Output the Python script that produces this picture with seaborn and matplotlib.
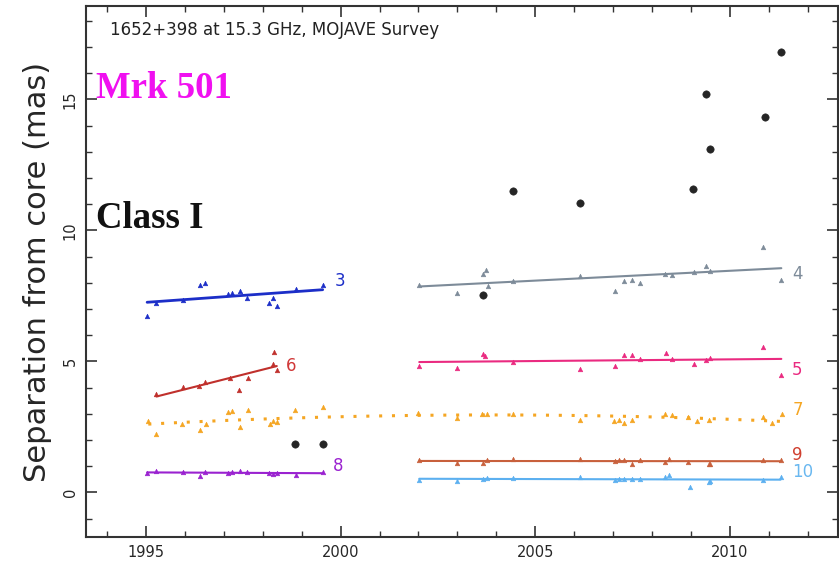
import numpy as np
import pandas as pd
import matplotlib
matplotlib.use("Agg")
import matplotlib.pyplot as plt
import seaborn as sns

# ---------------- data ----------------
t3 = [1995.03, 1995.26, 1995.96, 1996.39, 1996.52, 1997.12, 1997.20, 1997.42, 1997.60, 1998.17, 1998.26, 1998.36, 1998.86, 1999.54]
s3 = [6.72, 7.22, 7.35, 7.92, 7.98, 7.58, 7.60, 7.67, 7.43, 7.22, 7.43, 7.13, 7.77, 7.93]

t6 = [1995.27, 1995.96, 1996.37, 1996.52, 1997.16, 1997.40, 1997.63, 1998.27, 1998.30, 1998.36]
s6 = [3.75, 4.02, 4.07, 4.22, 4.35, 3.90, 4.36, 4.91, 5.35, 4.66]

t7 = [1995.06, 1995.27, 1995.92, 1996.39, 1996.54, 1997.12, 1997.20, 1997.42, 1997.63, 1998.19, 1998.27, 1998.36,
      1998.83, 1999.56, 2002.00, 2002.99, 2003.63, 2003.76, 2004.44, 2006.16, 2007.01, 2007.14, 2007.27, 2007.48,
      2008.34, 2008.51, 2008.93, 2009.15, 2009.45, 2010.86, 2011.08, 2011.34]
s7 = [2.73, 2.25, 2.60, 2.40, 2.60, 3.07, 3.10, 2.50, 3.13, 2.63, 2.73, 2.69,
      3.16, 3.26, 3.05, 2.86, 2.98, 3.00, 3.00, 2.78, 2.73, 2.78, 2.65, 2.78,
      2.98, 2.94, 2.88, 2.73, 2.78, 2.88, 2.65, 3.00]

t8 = [1995.03, 1995.26, 1995.96, 1996.39, 1996.52, 1997.12, 1997.20, 1997.42, 1997.60, 1998.17, 1998.26, 1998.36, 1998.86, 1999.54]
s8 = [0.75, 0.80, 0.78, 0.62, 0.78, 0.76, 0.78, 0.80, 0.78, 0.76, 0.72, 0.74, 0.65, 0.78]

t4 = [2002.02, 2002.99, 2003.67, 2003.74, 2003.78, 2004.42, 2006.16, 2007.06, 2007.27, 2007.48, 2007.68, 2008.34,
      2008.51, 2009.07, 2009.39, 2009.50, 2010.86, 2011.32]
s4 = [7.93, 7.60, 8.34, 8.49, 7.87, 8.06, 8.25, 7.68, 8.08, 8.11, 8.00, 8.34,
      8.31, 8.40, 8.66, 8.44, 9.35, 8.12]

t5 = [2002.02, 2002.99, 2003.67, 2003.72, 2004.44, 2006.16, 2007.06, 2007.27, 2007.48, 2007.68, 2008.37, 2008.51,
      2009.07, 2009.39, 2009.50, 2010.86, 2011.32]
s5 = [4.82, 4.76, 5.29, 5.19, 4.97, 4.72, 4.81, 5.25, 5.25, 5.10, 5.33, 5.08,
      4.89, 5.06, 5.14, 5.55, 4.50]

t9 = [2002.02, 2002.99, 2003.67, 2003.76, 2004.44, 2006.16, 2007.06, 2007.14, 2007.27, 2007.48, 2007.68, 2008.34,
      2008.43, 2008.93, 2009.45, 2009.50, 2010.86, 2011.30]
s9 = [1.22, 1.13, 1.13, 1.22, 1.29, 1.27, 1.20, 1.23, 1.23, 1.10, 1.23, 1.17,
      1.29, 1.17, 1.08, 1.10, 1.23, 1.25]

t10 = [2002.02, 2002.99, 2003.67, 2003.76, 2004.44, 2006.16, 2007.06, 2007.14, 2007.27, 2007.48, 2007.68, 2008.34,
       2008.43, 2008.98, 2009.45, 2009.50, 2010.86, 2011.30]
s10 = [0.48, 0.43, 0.52, 0.56, 0.56, 0.59, 0.48, 0.53, 0.53, 0.53, 0.53, 0.59,
       0.65, 0.19, 0.40, 0.43, 0.48, 0.59]

tb = [1998.83, 1999.56, 2003.67, 2004.44, 2006.16, 2009.05, 2009.39, 2009.50, 2010.90, 2011.32]
sb = [1.84, 1.84, 7.55, 11.51, 11.04, 11.60, 15.21, 13.10, 14.33, 16.83]

components = ["3", "6", "7", "8", "4", "5", "9", "10"]
colors = {"3": "#1c2ec8", "6": "#c0302c", "7": "#f5a623", "8": "#9a22d0",
          "4": "#7d8b99", "5": "#ea2a80", "9": "#c8603c", "10": "#5cb0f0"}
label_colors = {"3": "#1c2ec8", "6": "#d03838", "7": "#f5a623", "8": "#9a22d0",
                "4": "#7d8b99", "5": "#ea2a80", "9": "#d04030", "10": "#6ab8f0"}
label_pos = {"3": (1999.86, 8.08), "6": (1998.60, 4.81), "8": (1999.81, 1.00),
             "4": (2011.60, 8.35), "5": (2011.60, 4.66), "7": (2011.60, 3.13),
             "9": (2011.60, 1.42), "10": (2011.60, 0.77)}

series = {"3": (t3, s3), "6": (t6, s6), "7": (t7, s7), "8": (t8, s8),
          "4": (t4, s4), "5": (t5, s5), "9": (t9, s9), "10": (t10, s10)}

# ---------------- plot ----------------
sns.set_theme(style="ticks")
plt.rcParams["font.family"] = ["DejaVu Sans"]

fig = plt.figure(figsize=(8.39, 5.62), dpi=100)
ax = fig.add_axes([0.1025, 0.0445, 0.8965, 0.9445])

for c in components:
    t, s = series[c]
    df = pd.DataFrame({"epoch": t, "sep": s})
    if c == "7":
        kws = dict(color=colors[c], lw=2.2, ls=(0, (1.0, 3.2)))
        order = 2
    else:
        kws = dict(color=colors[c], lw=(2.0 if c == "3" else 1.5), ls="-")
        order = 1
    sns.regplot(data=df, x="epoch", y="sep", ax=ax, scatter=False, ci=None,
                truncate=True, order=order, line_kws=kws)
    sns.scatterplot(data=df, x="epoch", y="sep", ax=ax, marker="^", s=11,
                    color=colors[c], edgecolor=colors[c], linewidth=0.4, zorder=3)
    lx, ly = label_pos[c]
    ax.text(lx, ly, c, color=label_colors[c], fontsize=12, ha="left", va="center")

dfb = pd.DataFrame({"epoch": tb, "sep": sb})
sns.scatterplot(data=dfb, x="epoch", y="sep", ax=ax, marker="o", s=28,
                color="#252525", edgecolor="#252525", zorder=4)

ax.set_xlim(1993.46, 2012.78)
ax.set_ylim(-1.7, 18.56)
ax.set_xticks([1995, 2000, 2005, 2010])
ax.set_xticks(np.arange(1994, 2013), minor=True)
ax.set_yticks([0, 5, 10, 15])
ax.set_yticks(np.arange(-1, 19), minor=True)
ax.tick_params(which="both", direction="in", top=True, right=True, color="#333333")
ax.tick_params(which="major", length=8, width=1.2, labelsize=10.5, pad=6)
ax.tick_params(which="minor", length=4, width=1.0)
for lab in ax.get_yticklabels():
    lab.set_rotation(90)
    lab.set_va("center")
for sp in ax.spines.values():
    sp.set_linewidth(1.5)
    sp.set_color("#333333")

ax.set_xlabel("")
ax.set_ylabel("Separation from core (mas)", fontsize=22, labelpad=8)

ax.text(0.032, 0.955, "1652+398 at 15.3 GHz, MOJAVE Survey", transform=ax.transAxes,
        fontsize=12, ha="left", va="center", color="#222222")
ax.text(0.013, 0.845, "Mrk 501", transform=ax.transAxes, fontsize=26.5,
        fontweight="bold", family="Liberation Serif", color="#f010f0", ha="left", va="center")
ax.text(0.013, 0.60, "Class I", transform=ax.transAxes, fontsize=26.5,
        fontweight="bold", family="Liberation Serif", color="#111111", ha="left", va="center")

fig.savefig("out.png", dpi=100, facecolor="white")
